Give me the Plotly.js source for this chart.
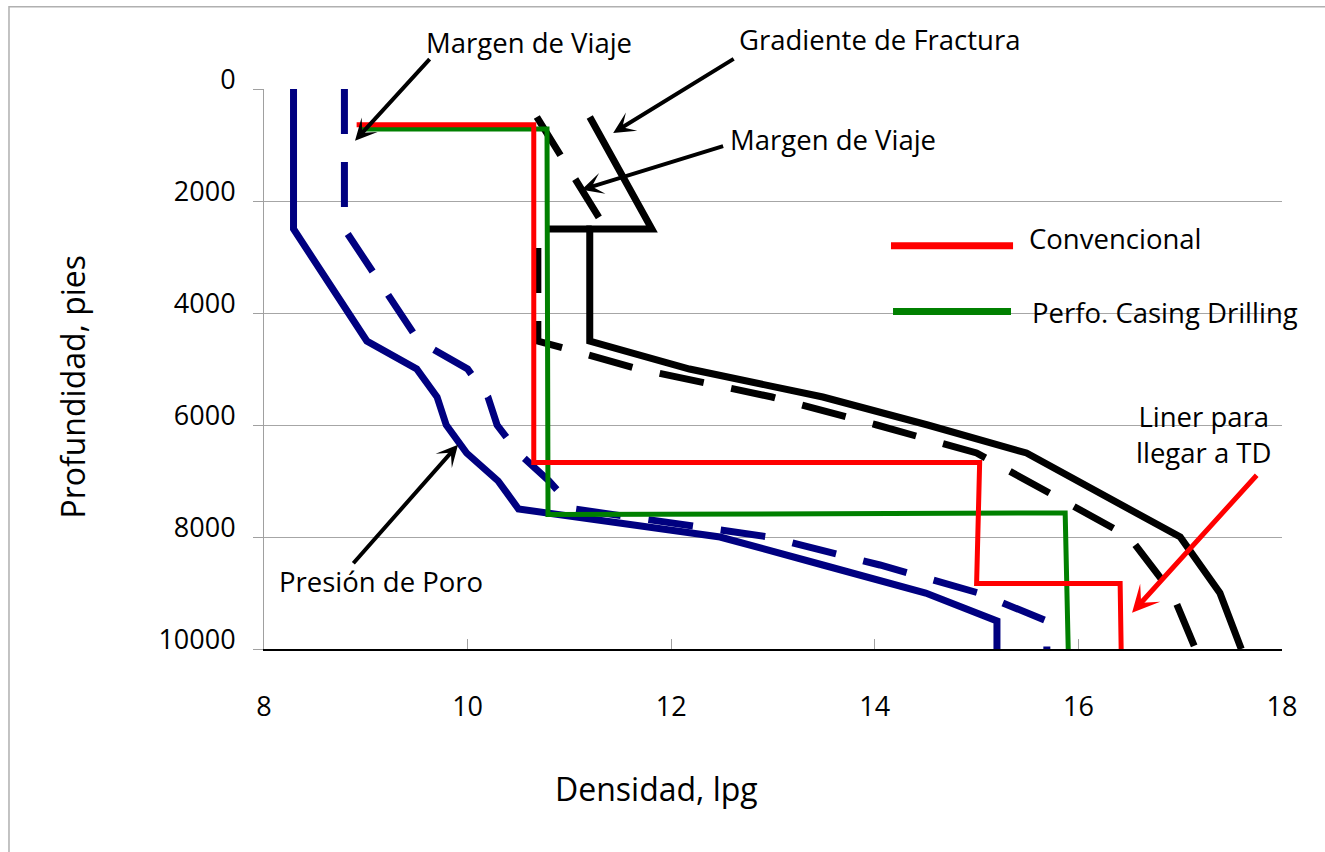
<!DOCTYPE html>
<html>
<head>
<meta charset="utf-8">
<script src="https://cdn.plot.ly/plotly-3.0.1.min.js"></script>
<style>html,body{margin:0;padding:0;background:#fff;}#chart{width:1325px;height:852px;}</style>
</head>
<body>
<div id="chart"></div>
<script>
// Depths (pies) for pore-pressure curves
const depthPore = [0, 2500, 4500, 5000, 5500, 6000, 6500, 7000, 7500, 8000, 8500, 9000, 9500, 10000];
// Pore pressure (lpg) - solid navy
const porePressure = [8.29, 8.29, 9.01, 9.50, 9.70, 9.79, 9.99, 10.30, 10.50, 12.48, 13.49, 14.50, 15.20, 15.20];
// Pore pressure + trip margin (lpg) - dashed navy
const poreMargin = [8.79, 8.79, 9.52, 10.00, 10.20, 10.29, 10.50, 10.80, 11.05, 12.96, 14.05, 15.02, 15.69, 15.69];

// Depths (pies) for fracture curves
const depthFrac = [500, 2500, 2500, 4500, 5000, 5500, 6000, 6500, 8000, 9000, 10000];
// Fracture gradient (lpg) - solid black
const fracGradient = [11.20, 11.81, 11.20, 11.20, 12.18, 13.49, 14.52, 15.49, 17.00, 17.39, 17.60];
// Fracture gradient - trip margin (lpg) - dashed black
const fracMargin = [10.68, 11.36, 10.69, 10.69, 11.68, 12.99, 14.02, 15.00, 16.50, 16.92, 17.15];

// Conventional casing design
const convDensity = [8.91, 10.65, 10.65, 15.03, 15.00, 16.41, 16.42];
const convDepth = [640, 640, 6670, 6670, 8830, 8830, 10000];

// Casing drilling design
const cdDensity = [8.95, 10.78, 10.79, 15.87, 15.90];
const cdDepth = [715, 715, 7600, 7570, 10000];

// Axis ticks
const xTicks = [8, 10, 12, 14, 16, 18];
const yTicks = [0, 2000, 4000, 6000, 8000, 10000];

const FONT = '"Open Sans", "Noto Sans", sans-serif';

const traces = [
  {x: porePressure, y: depthPore, mode: 'lines', line: {color: '#000080', width: 7}, name: 'Presión de Poro'},
  {x: poreMargin, y: depthPore, mode: 'lines', line: {color: '#000080', width: 7, dash: '45px,28px'}, name: 'Margen de Viaje'},
  {x: fracGradient, y: depthFrac, mode: 'lines', line: {color: '#000000', width: 7}, name: 'Gradiente de Fractura'},
  {x: fracMargin, y: depthFrac, mode: 'lines', line: {color: '#000000', width: 7, dash: '45px,28px'}, name: 'Margen de Viaje'},
  {x: cdDensity, y: cdDepth, mode: 'lines', line: {color: '#008000', width: 5}, name: 'Perfo. Casing Drilling'},
  {x: convDensity, y: convDepth, mode: 'lines', line: {color: '#FF0000', width: 5}, name: 'Convencional'}
];

function arrow(x, y, ax, ay, color, w) {
  return {x: x, y: y, xref: 'x', yref: 'y', ax: ax, ay: ay, text: '', showarrow: true,
          arrowhead: 3, arrowsize: 0.9, arrowwidth: w, arrowcolor: color};
}
function label(text, x, y, xanchor, size) {
  return {text: text, x: x, y: y, xref: 'paper', yref: 'paper', showarrow: false,
          xanchor: xanchor, yanchor: 'middle', font: {family: FONT, size: size, color: '#000'}};
}

const annotations = [
  arrow(8.894, 923, 76, -83, '#000', 4),
  arrow(11.43, 785, 122, -75, '#000', 4),
  arrow(11.12, 1798, 143, -44, '#000', 4),
  arrow(16.527, 9352, 126, -139, '#FF0000', 5),
  arrow(9.906, 6352, -106, 120, '#000', 4),
  label('Margen de Viaje', 0.2603, 1.0827, 'center', 27.5),
  label('Gradiente de Fractura', 0.6051, 1.088, 'center', 27.5),
  label('Margen de Viaje', 0.559, 0.9095, 'center', 27.5),
  label('Liner para<br>llegar a TD', 0.8546, 0.3836, 'left', 27.5),
  label('Presión de Poro', 0.1149, 0.1202, 'center', 27.5),
  label('Convencional', 0.7495, 0.7327, 'left', 27.5),
  label('Perfo. Casing Drilling', 0.7524, 0.6005, 'left', 27.5),
  label('Densidad, lpg', 0.3851, -0.2495, 'center', 32),
  Object.assign(label('Profundidad, pies', -0.1877, 0.4684, 'center', 32), {textangle: -90})
];

const shapes = [
  {type: 'line', xref: 'paper', yref: 'paper', x0: 0.6159, x1: 0.7358, y0: 0.7202, y1: 0.7202, line: {color: '#FF0000', width: 7}},
  {type: 'line', xref: 'paper', yref: 'paper', x0: 0.6179, x1: 0.7338, y0: 0.6029, y1: 0.6029, line: {color: '#008000', width: 7}},
  {type: 'rect', xref: 'paper', yref: 'paper', x0: -0.2505, x1: 1.2, y0: -0.6, y1: 1.147, line: {color: '#b0b0b0', width: 1.5}, layer: 'below'}
];

const layout = {
  width: 1325, height: 852,
  margin: {l: 264, r: 43, t: 89, b: 203},
  paper_bgcolor: '#ffffff', plot_bgcolor: '#ffffff',
  showlegend: false,
  font: {family: FONT, color: '#000'},
  xaxis: {
    range: [8, 18], tickvals: xTicks, ticktext: xTicks.map(String),
    showgrid: false, zeroline: false,
    showline: true, linecolor: '#000', linewidth: 2,
    ticks: 'inside', ticklen: 10, tickcolor: '#a0a0a0', tickwidth: 1,
    tickfont: {family: FONT, size: 27, color: '#000'},
    ticklabelstandoff: 33
  },
  yaxis: {
    range: [10000, 0], tickvals: yTicks, ticktext: yTicks.map(String),
    showgrid: true, gridcolor: '#a6a6a6', gridwidth: 1, zeroline: false,
    showline: true, linecolor: '#a0a0a0', linewidth: 1,
    ticks: 'outside', ticklen: 10, tickcolor: '#a0a0a0', tickwidth: 1,
    tickfont: {family: FONT, size: 27, color: '#000'},
    ticklabelstandoff: 12, ticklabelshift: 9
  },
  annotations: annotations,
  shapes: shapes
};

Plotly.newPlot('chart', traces, layout, {displayModeBar: false, staticPlot: true});
</script>
</body>
</html>
